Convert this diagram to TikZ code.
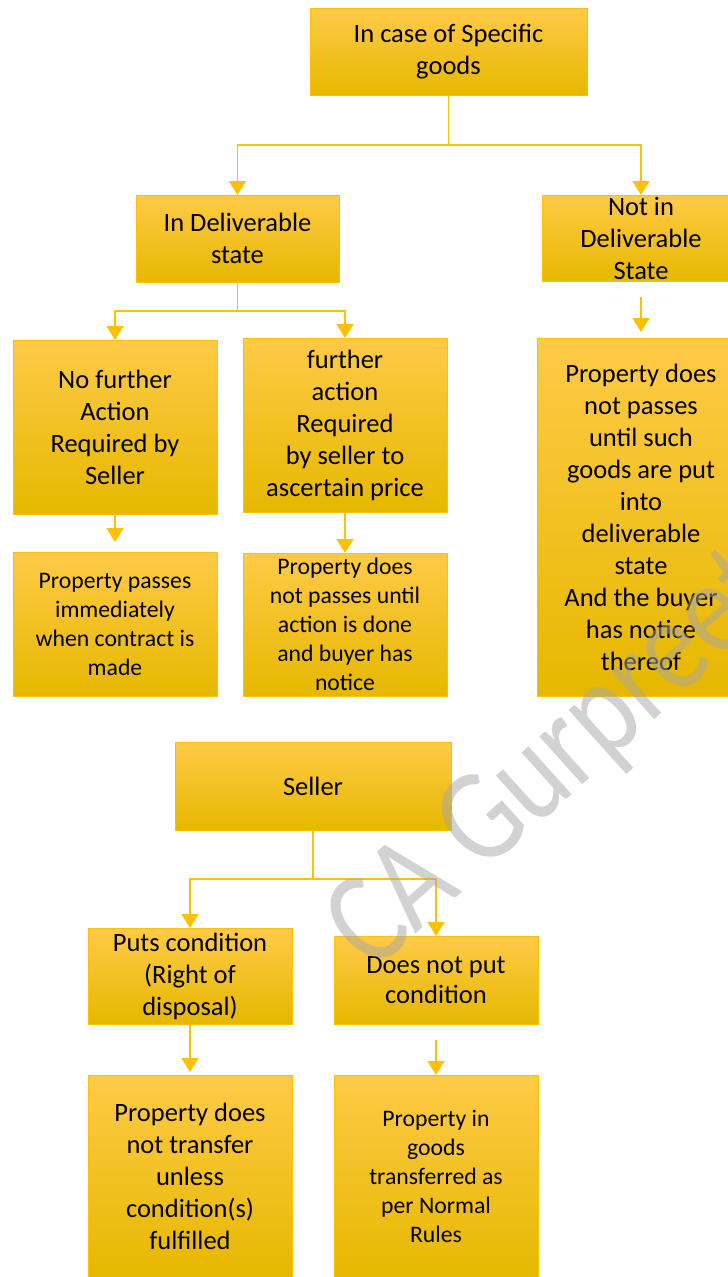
\documentclass[tikz,border=0pt]{standalone}
\usepackage{fontspec}
\setmainfont{Carlito}
\usetikzlibrary{arrows.meta}
\definecolor{gold}{HTML}{FFC000}
\definecolor{goldtop}{HTML}{FFCA47}
\definecolor{goldbot}{HTML}{E6B800}
\definecolor{wmgray}{HTML}{A6A6A6}
\newcommand{\bigf}{\fontsize{26.5}{32}\selectfont}
\newcommand{\smallf}{\fontsize{23.7}{29}\selectfont}
\tikzset{
  box/.style={draw=gold, line width=1pt, top color=goldtop, middle color=gold, bottom color=goldbot,
    inner sep=0pt, outer sep=0pt, align=center, text=black, font=\bigf},
  smallbox/.style={box, font=\smallf},
  conn/.style={draw=gold, line width=1.5pt},
  arr/.style={conn, -{Triangle[width=17pt,length=14pt]}},
}
\begin{document}
\begin{tikzpicture}[x=1pt,y=-1pt]
\useasboundingbox (0,0) rectangle (728,1277);
% boxes
\node[box, minimum width=277pt, minimum height=87pt] (top) at (448.5,51.5) {In case of Specific\\goods};
\node[box, minimum width=203pt, minimum height=87pt] (deliv) at (237.5,238.5) {In Deliverable\\state};
\node[box, minimum width=198pt, minimum height=86pt] (notdel) at (641,238) {Not in\\Deliverable\\State};
\node[box, minimum width=204pt, minimum height=174pt] (nofur) at (115,427) {No further\\Action\\Required by\\Seller};
\node[box, minimum width=204pt, minimum height=174pt] (fur) at (345,425) {further\\action\\Required\\by seller to\\ascertain price};
\node[smallbox, minimum width=204pt, minimum height=144pt] (pass) at (115,624) {Property passes\\immediately\\when contract is\\made};
\node[smallbox, minimum width=204pt, minimum height=143pt] (notpass) at (345,624.5) {Property does\\not passes until\\action is done\\and buyer has\\notice};
\node[box, minimum width=208pt, minimum height=358pt] (notdelres) at (641,517) {Property does\\not passes\\until such\\goods are put\\into\\deliverable\\state\\And the buyer\\has notice\\thereof};
\node[box, minimum width=276pt, minimum height=88pt] (seller) at (313,786) {Seller};
\node[box, minimum width=204pt, minimum height=96pt] (puts) at (190,976) {Puts condition\\(Right of\\disposal)};
\node[box, font=\fontsize{26.5}{30}\selectfont, minimum width=204pt, minimum height=88pt] (doesnot) at (436,980) {Does not put\\condition};
\node[box, minimum width=204pt, minimum height=202pt] (notransfer) at (190,1176) {Property does\\not transfer\\unless\\condition(s)\\fulfilled};
\node[smallbox, minimum width=204pt, minimum height=202pt] (normal) at (436,1176) {Property in\\goods\\transferred as\\per Normal\\Rules};
% connectors
\draw[arr] (top.south) -- ++(0,50) -| (deliv.north);
\draw[arr] (top.south) -- ++(0,50) -| (notdel.north);
\draw[arr] (deliv.south) -- ++(0,29) -| (nofur.north);
\draw[arr] (deliv.south) -- ++(0,29) -| (fur.north);
\draw[arr, shorten >=10pt] (nofur.south) -- (pass.north);
\draw[arr] (fur.south) -- (notpass.north);
\draw[arr, shorten <=16pt, shorten >=6pt] (notdel.south) -- (notdelres.north);
\draw[arr] (seller.south) -- ++(0,49) -| (puts.north);
\draw[arr] (seller.south) -- ++(0,49) -| (doesnot.north);
\draw[arr, shorten >=3pt] (puts.south) -- (notransfer.north);
\draw[arr, shorten <=16pt] (doesnot.south) -- (normal.north);
% watermark
\node[rotate=42, xscale=0.82, anchor=base west, text=wmgray, text opacity=0.5, font=\fontsize{135}{135}\selectfont, inner sep=0pt] (wm) at (372,974) {CA Gurpreet};
\end{tikzpicture}
\end{document}
